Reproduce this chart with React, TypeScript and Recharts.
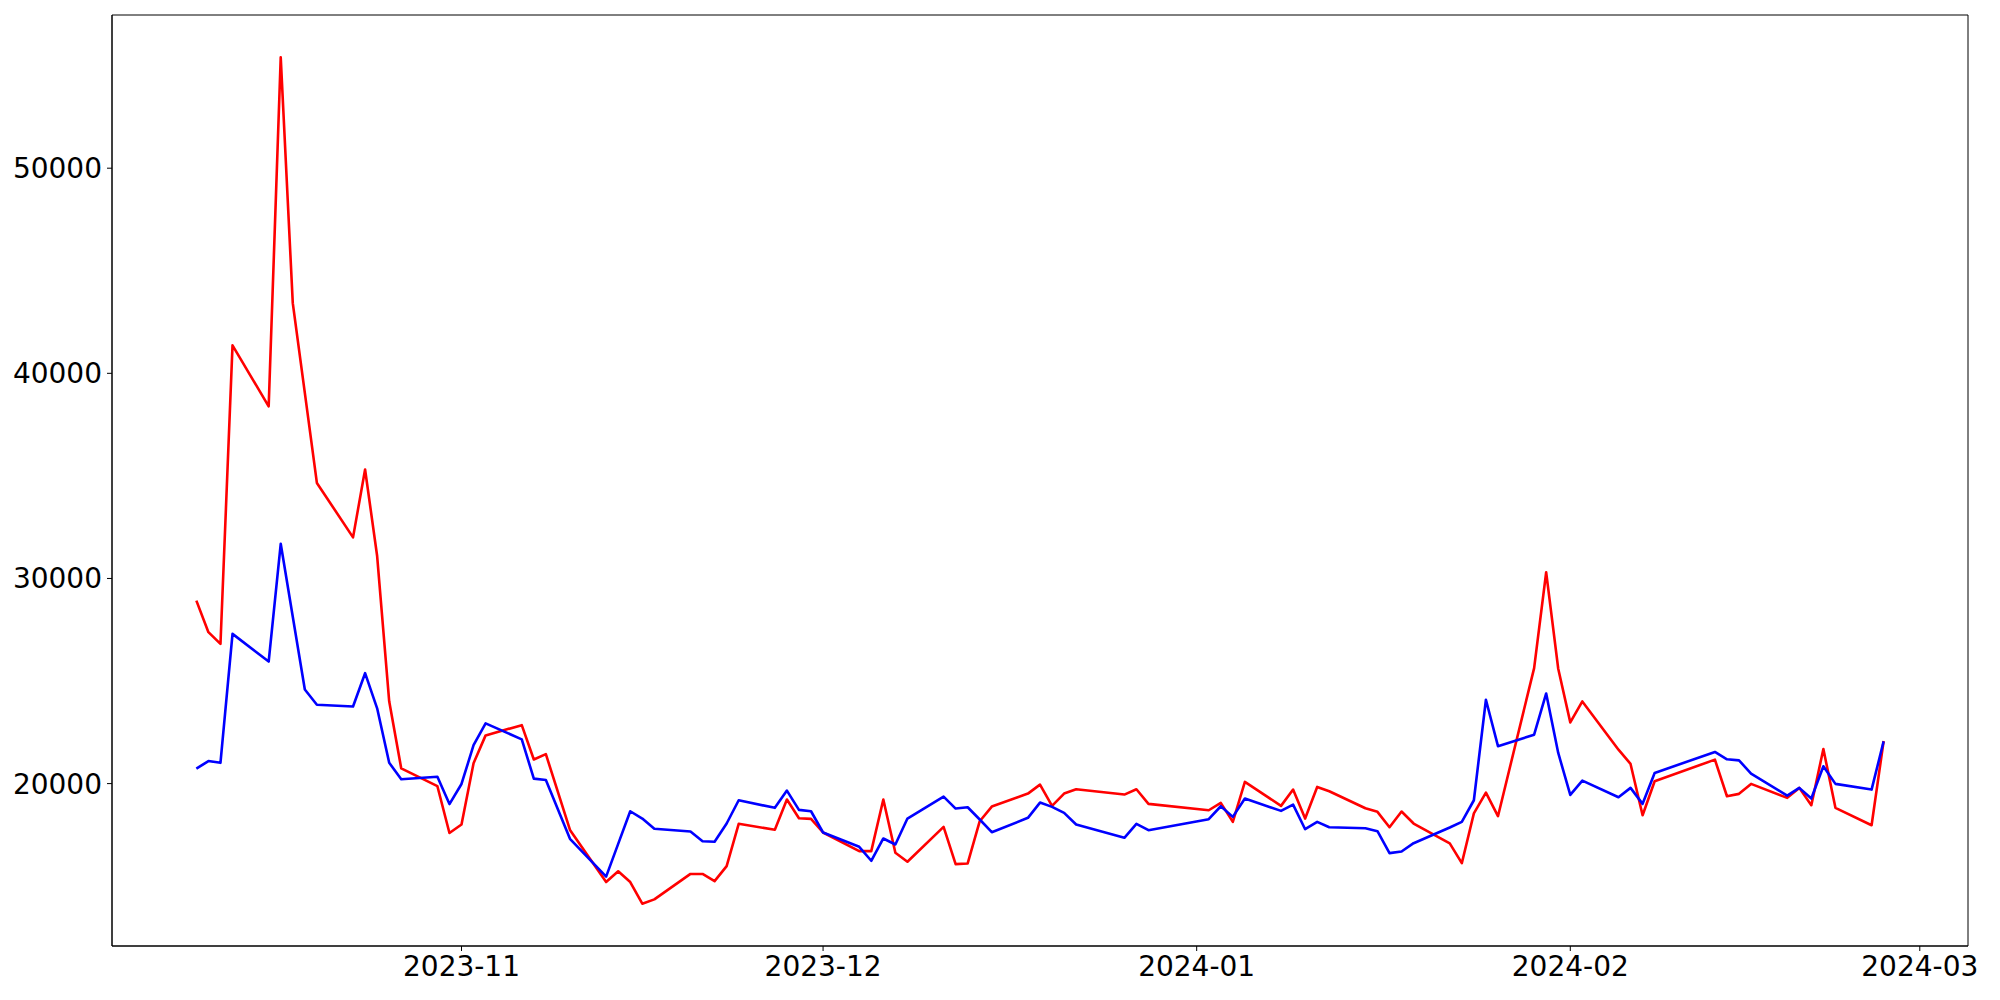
import { LineChart, Line, XAxis, YAxis, ReferenceArea } from 'recharts'

// trading days shown in the chart
const dates = [
    '2023-10-10', '2023-10-11', '2023-10-12', '2023-10-13', '2023-10-16', '2023-10-17', '2023-10-18', '2023-10-19',
    '2023-10-20', '2023-10-23', '2023-10-24', '2023-10-25', '2023-10-26', '2023-10-27', '2023-10-30', '2023-10-31',
    '2023-11-01', '2023-11-02', '2023-11-03', '2023-11-06', '2023-11-07', '2023-11-08', '2023-11-10', '2023-11-13',
    '2023-11-14', '2023-11-15', '2023-11-16', '2023-11-17', '2023-11-20', '2023-11-21', '2023-11-22', '2023-11-23',
    '2023-11-24', '2023-11-27', '2023-11-28', '2023-11-29', '2023-11-30', '2023-12-01', '2023-12-04', '2023-12-05',
    '2023-12-06', '2023-12-07', '2023-12-08', '2023-12-11', '2023-12-12', '2023-12-13', '2023-12-14', '2023-12-15',
    '2023-12-18', '2023-12-19', '2023-12-20', '2023-12-21', '2023-12-22', '2023-12-26', '2023-12-27', '2023-12-28',
    '2024-01-02', '2024-01-03', '2024-01-04', '2024-01-05', '2024-01-08', '2024-01-09', '2024-01-10', '2024-01-11',
    '2024-01-12', '2024-01-15', '2024-01-16', '2024-01-17', '2024-01-18', '2024-01-19', '2024-01-22', '2024-01-23',
    '2024-01-24', '2024-01-25', '2024-01-26', '2024-01-29', '2024-01-30', '2024-01-31', '2024-02-01', '2024-02-02',
    '2024-02-05', '2024-02-06', '2024-02-07', '2024-02-08', '2024-02-13', '2024-02-14', '2024-02-15', '2024-02-16',
    '2024-02-19', '2024-02-20', '2024-02-21', '2024-02-22', '2024-02-23', '2024-02-26', '2024-02-27',
]

const redValues = [
    28920, 27382, 26808, 41362, 38393, 55405, 43420, 39050,
    34656, 32004, 35313, 31094, 24010, 20740, 19873, 17591,
    18005, 20993, 22350, 22850, 21177, 21435, 17742, 15202,
    15723, 15202, 14146, 14355, 15596, 15596, 15246, 15976,
    18039, 17747, 19221, 18312, 18280, 17616, 16706, 16706,
    19221, 16628, 16190, 17893, 16074, 16107, 18166, 18881,
    19513, 19951, 18915, 19513, 19723, 19465, 19723, 19013,
    18701, 19061, 18136, 20082, 18915, 19708, 18297, 19838,
    19625, 18799, 18622, 17874, 18638, 18054, 17085, 16120,
    18550, 19560, 18410, 25630, 30301, 25597, 22983, 24005,
    21654, 20958, 18458, 20112, 21168, 19383, 19500, 19986,
    19305, 19791, 18945, 21688, 18818, 17971, 22075,
]

const blueValues = [
    20730, 21100, 21012, 27300, 25951, 31688, 28136, 24584,
    23844, 23757, 25382, 23670, 21012, 20214, 20331, 19002,
    19981, 21873, 22935, 22156, 20243, 20175, 17309, 15465,
    17061, 18652, 18297, 17795, 17664, 17192, 17163, 18054,
    19188, 18818, 19659, 18720, 18652, 17616, 16920, 16238,
    17324, 17032, 18297, 19367, 18783, 18847, 18248, 17630,
    18331, 19075, 18864, 18572, 18005, 17357, 18039, 17727,
    18263, 18896, 18378, 19270, 18670, 18978, 17777, 18136,
    17874, 17825, 17679, 16609, 16691, 17095, 17860, 18136,
    19188, 24088, 21825, 22384, 24394, 21493, 19450, 20146,
    19334, 19791, 19013, 20520, 21542, 21184, 21134, 20487,
    19416, 19791, 19270, 20842, 19986, 19708, 22058,
]

const xTickLabels = ['2023-11', '2023-12', '2024-01', '2024-02', '2024-03']
const yTicks = [20000, 30000, 40000, 50000]

const toTime = (s: string) => {
    const [y, m, d] = s.split('-').map(Number)
    return Date.UTC(y, m - 1, d || 1)
}

const data = dates.map((d, i) => ({ t: toTime(d), red: redValues[i], blue: blueValues[i] }))

const DAY = 86400000
const xMin = toTime('2023-10-03')
const xMax = toTime('2024-03-05')
const yMin = 12083
const yMax = 57468

const tickStyle = { fill: '#000', fontSize: 28, fontFamily: 'DejaVu Sans' }

export default function App() {
    return (
        <div style={{ position: 'absolute', left: 0, top: 0, width: 2000, height: 1000, background: '#fff' }}>
            <LineChart width={2000} height={1000} data={data} margin={{ top: 15, right: 32, bottom: 0, left: 0 }}>
                <XAxis
                    type="number"
                    dataKey="t"
                    domain={[xMin, xMax]}
                    allowDataOverflow
                    ticks={xTickLabels.map(toTime)}
                    tickFormatter={(v: number) => {
                        const d = new Date(v + DAY / 2)
                        return `${d.getUTCFullYear()}-${String(d.getUTCMonth() + 1).padStart(2, '0')}`
                    }}
                    height={54}
                    tickSize={5}
                    tickMargin={5}
                    tick={tickStyle}
                    axisLine={{ stroke: '#000' }}
                    tickLine={{ stroke: '#000' }}
                />
                <YAxis
                    type="number"
                    domain={[yMin, yMax]}
                    allowDataOverflow
                    ticks={yTicks}
                    width={112}
                    tickSize={5}
                    tickMargin={5}
                    tick={tickStyle}
                    axisLine={{ stroke: '#000' }}
                    tickLine={{ stroke: '#000' }}
                />
                <ReferenceArea x1={xMin} x2={xMax} y1={yMin} y2={yMax} fill="none" stroke="#000" strokeWidth={1} fillOpacity={0} />
                <Line type="linear" dataKey="red" stroke="#ff0000" strokeWidth={2.6} dot={false} isAnimationActive={false} strokeLinejoin="round" />
                <Line type="linear" dataKey="blue" stroke="#0000ff" strokeWidth={2.6} dot={false} isAnimationActive={false} strokeLinejoin="round" />
            </LineChart>
        </div>
    )
}
